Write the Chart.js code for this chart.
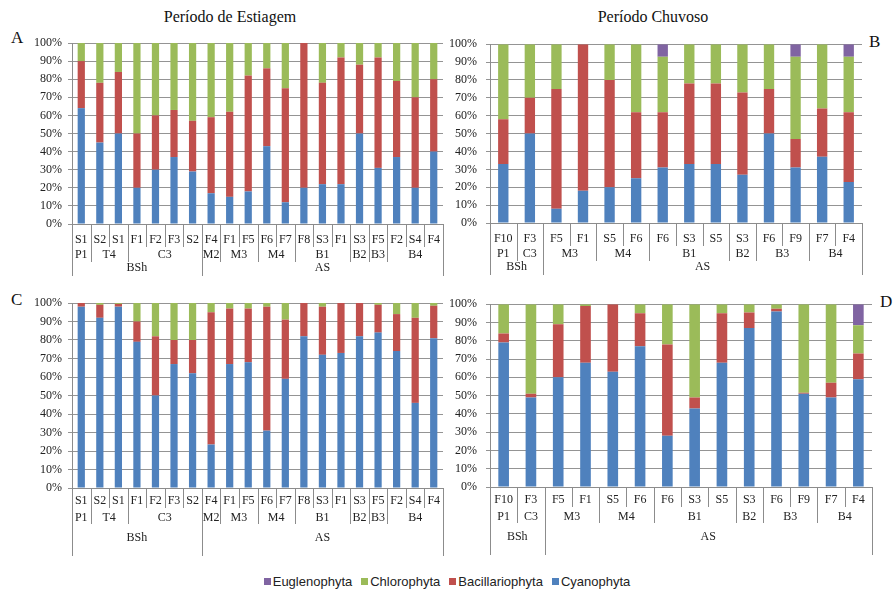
<!DOCTYPE html>
<html>
<head>
<meta charset="utf-8">
<script src="https://cdn.jsdelivr.net/npm/chart.js@4.4.1/dist/chart.umd.min.js"></script>
<style>
  html, body { margin: 0; padding: 0; background: #fff; }
  #page { position: relative; width: 894px; height: 589px; overflow: hidden; background: #fff; }
  canvas { position: absolute; }
  .title { position: absolute; font-family: "Liberation Serif", serif; font-size: 16px; color: #111; white-space: nowrap; transform: translateX(-50%); }
  .tag { position: absolute; font-family: "Liberation Serif", serif; font-size: 17px; color: #111; }
  #legend { position: absolute; left: 0; width: 894px; top: 574px; display: flex; justify-content: center; gap: 9px;
            font-family: "Liberation Sans", Arial, sans-serif; font-size: 13px; color: #222; }
  #legend span.sw { display: inline-block; width: 7px; height: 7px; margin-right: 2px; vertical-align: 1px; }
</style>
</head>
<body>
<div id="page">
  <div class="title" style="left:230px;top:8px">Período de Estiagem</div>
  <div class="title" style="left:653px;top:8px">Período Chuvoso</div>
  <div class="tag" style="left:11px;top:28px">A</div>
  <div class="tag" style="left:869px;top:32px">B</div>
  <div class="tag" style="left:11px;top:290px">C</div>
  <div class="tag" style="left:880px;top:292px">D</div>
  <canvas id="cA"></canvas>
  <canvas id="cB"></canvas>
  <canvas id="cC"></canvas>
  <canvas id="cD"></canvas>
  <div id="legend"></div>
</div>
<script>
// Phytoplankton groups, drawn bottom to top in each stacked bar
const seriesNames = ['Cyanophyta', 'Bacillariophyta', 'Chlorophyta', 'Euglenophyta'];
const seriesColors = ['#4F81BD', '#C0504D', '#9BBB59', '#8064A2'];
const legendOrder = [3, 2, 1, 0];

// Dry season sampling stations, reservoirs and climate zones
const dryStations = ['S1','S2','S1','F1','F2','F3','S2','F4','F1','F5','F6','F7','F8','S3','F1','S3','F5','F2','S4','F4'];
const drySites = [['P1',1],['T4',2],['C3',4],['M2',1],['M3',2],['M4',2],['B1',3],['B2',1],['B3',1],['B4',3]];
const dryClimates = [['BSh',7],['AS',13]];

// Rainy season sampling stations, reservoirs and climate zones
const wetStations = ['F10','F3','F5','F1','S5','F6','F6','S3','S5','S3','F6','F9','F7','F4'];
const wetSites = [['P1',1],['C3',1],['M3',2],['M4',2],['B1',3],['B2',1],['B3',2],['B4',2]];
const wetClimates = [['BSh',2],['AS',12]];

// Y axis ticks (percent)
const yTicks = [0, 10, 20, 30, 40, 50, 60, 70, 80, 90, 100];

// A – dry season, relative richness (%)
const cyanoA  = [64, 45, 50, 20, 30, 37, 29, 17, 15, 18, 43, 12, 20, 22, 22, 50, 31, 37, 20, 40];
const bacilA  = [26, 33, 34, 30, 30, 26, 28, 42, 47, 64, 43, 63, 80, 56, 70, 38, 61, 42, 50, 40];
const chloroA = [10, 22, 16, 50, 40, 37, 43, 41, 38, 18, 14, 25,  0, 22,  8, 12,  8, 21, 30, 20];
const eugleA  = [ 0,  0,  0,  0,  0,  0,  0,  0,  0,  0,  0,  0,  0,  0,  0,  0,  0,  0,  0,  0];

// B – rainy season, relative richness (%)
const cyanoB  = [33, 50,  8, 18, 20, 25, 31, 33, 33, 27, 50, 31, 37, 23];
const bacilB  = [25, 20, 67, 82, 60, 37, 31, 45, 45, 46, 25, 16, 27, 39];
const chloroB = [42, 30, 25,  0, 20, 38, 31, 22, 22, 27, 25, 46, 36, 31];
const eugleB  = [ 0,  0,  0,  0,  0,  0,  7,  0,  0,  0,  0,  7,  0,  7];

// C – dry season, relative density (%)
const cyanoC  = [98, 92, 98, 79, 50, 67, 62, 23.5, 67, 68, 31, 59, 82, 72, 73, 82, 84, 74, 46, 81];
const bacilC  = [ 2,  7, 1.5, 11, 32, 13, 18, 71.5, 30, 29, 67, 32, 18, 26, 27, 18, 15, 20, 46, 17.5];
const chloroC = [ 0,  1, 0.5, 10, 18, 20, 20,  5,  3,  3,  2,  9,  0,  2,  0,  0,  1,  6,  8, 1.5];
const eugleC  = [ 0,  0,  0,  0,  0,  0,  0,  0,  0,  0,  0,  0,  0,  0,  0,  0,  0,  0,  0,  0];

// D – rainy season, relative density (%)
const cyanoD  = [79, 49, 60, 68, 63, 77, 28, 43, 68, 87, 96, 51, 49, 59];
const bacilD  = [ 5,  2, 29, 31, 37, 18, 50,  6, 27, 8.5, 1.5, 0.5, 8, 14];
const chloroD = [16, 49, 11,  1,  0,  5, 22, 51,  5, 4.5, 2.5, 48.5, 43, 15.5];
const eugleD  = [ 0,  0,  0,  0,  0,  0,  0,  0,  0,  0,  0,  0,  0, 11.5];

// Multi-level category axis: station row, reservoir row, climate row,
// with separators whose depth follows the grouping level.
const hierAxis = {
  id: 'hierAxis',
  afterDraw(chart, args, o) {
    const { ctx, chartArea: a } = chart;
    const x = chart.scales.x;
    const n = o.stations.length;
    const edge = i => i === 0 ? a.left : i === n ? a.right
      : (x.getPixelForValue(i - 1) + x.getPixelForValue(i)) / 2;
    const level = new Array(n + 1).fill(1);
    let k = 0;
    for (const [, c] of o.sites) { k += c; level[k] = Math.max(level[k], 2); }
    k = 0;
    for (const [, c] of o.climates) { k += c; level[k] = 3; }
    level[0] = 3; level[n] = 3;
    ctx.save();
    ctx.strokeStyle = '#8c8c8c';
    ctx.lineWidth = 1;
    for (let i = 0; i <= n; i++) {
      const px = Math.round(edge(i)) + 0.5;
      ctx.beginPath();
      ctx.moveTo(px, a.bottom);
      ctx.lineTo(px, a.bottom + o.depth[level[i] - 1]);
      ctx.stroke();
    }
    ctx.fillStyle = '#222';
    ctx.font = '12px "Liberation Serif"';
    ctx.textAlign = 'center';
    ctx.textBaseline = 'middle';
    o.stations.forEach((s, i) => ctx.fillText(s, x.getPixelForValue(i), a.bottom + o.rows[0]));
    const group = (list, row) => {
      let s = 0;
      for (const [lab, c] of list) {
        ctx.fillText(lab, (edge(s) + edge(s + c)) / 2, a.bottom + row);
        s += c;
      }
    };
    group(o.sites, o.rows[1]);
    group(o.climates, o.rows[2]);
    ctx.restore();
  }
};

function makePanel(id, box, stations, sites, climates, values) {
  const cv = document.getElementById(id);
  cv.width = box.w; cv.height = box.h;
  cv.style.left = box.x + 'px'; cv.style.top = box.y + 'px';
  cv.style.width = box.w + 'px'; cv.style.height = box.h + 'px';
  return new Chart(cv, {
    type: 'bar',
    data: {
      labels: stations,
      datasets: values.map((v, i) => ({
        label: seriesNames[i],
        data: v,
        backgroundColor: seriesColors[i],
        borderWidth: 0,
        barPercentage: 0.39,
        categoryPercentage: 1
      }))
    },
    options: {
      responsive: false,
      animation: false,
      devicePixelRatio: 1,
      layout: { padding: { top: box.pt, right: box.pr, left: 0, bottom: 0 } },
      plugins: {
        legend: { display: false },
        tooltip: { enabled: false },
        hierAxis: { stations, sites, climates, rows: box.rows, depth: box.depth }
      },
      scales: {
        x: {
          stacked: true,
          offset: true,
          grid: { display: false },
          border: { display: true, color: '#8c8c8c' },
          ticks: { display: false },
          afterFit: s => { s.height = box.xh; }
        },
        y: {
          stacked: true,
          min: 0, max: 100,
          afterBuildTicks: s => { s.ticks = yTicks.map(v => ({ value: v })); },
          ticks: {
            callback: v => v + '%',
            font: { family: 'Liberation Serif', size: 12 },
            color: '#222',
            padding: box.tp
          },
          grid: { color: '#949494', tickLength: 4, drawTicks: true },
          border: { display: true, color: '#8c8c8c' },
          afterFit: s => { s.width = box.yw; }
        }
      }
    },
    plugins: [hierAxis]
  });
}

const topRows = [16, 31, 44], topDepth = [23, 38, 52];
const botRows = [13, 30, 50], botDepth = [20, 36, 68];

makePanel('cA', { x: 0, y: 28, w: 450, h: 258, pt: 15, pr: 7, yw: 72, xh: 62, tp: 6, rows: topRows, depth: topDepth },
  dryStations, drySites, dryClimates, [cyanoA, bacilA, chloroA, eugleA]);
makePanel('cB', { x: 445, y: 28, w: 425, h: 258, pt: 14, pr: 8, yw: 45, xh: 63, tp: 9, rows: topRows, depth: topDepth },
  wetStations, wetSites, wetClimates, [cyanoB, bacilB, chloroB, eugleB]);
makePanel('cC', { x: 0, y: 288, w: 450, h: 275, pt: 15, pr: 7, yw: 72, xh: 75, tp: 6, rows: botRows, depth: botDepth },
  dryStations, drySites, dryClimates, [cyanoC, bacilC, chloroC, eugleC]);
makePanel('cD', { x: 445, y: 288, w: 440, h: 275, pt: 15, pr: 13, yw: 45, xh: 76, tp: 9, rows: botRows, depth: botDepth },
  wetStations, wetSites, wetClimates, [cyanoD, bacilD, chloroD, eugleD]);

// Shared legend
const lg = document.getElementById('legend');
legendOrder.forEach(i => {
  const item = document.createElement('div');
  item.innerHTML = '<span class="sw" style="background:' + seriesColors[i] + '"></span>' + seriesNames[i];
  lg.appendChild(item);
});
</script>
</body>
</html>
